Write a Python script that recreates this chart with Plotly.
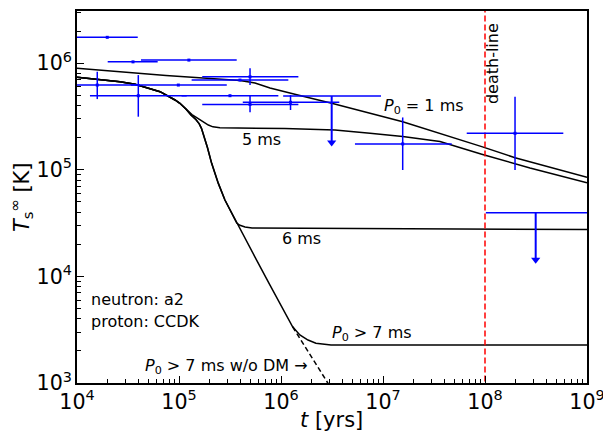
import numpy as np
import plotly.graph_objects as go

# ---------------- data ----------------
# observed pulsars (age t [yr], temperature T [K]) with error ranges
obs_t    = [1.98e4, 3.54e4, 1.25e5, 1.58e4, 9.85e4, 3.99e4, 3.16e5, 4.97e5, 3.96e5, 4.97e5, 1.24e6, 1.56e7, 1.97e8]
obs_t_lo = [8.0e3,  2.00e4, 4.24e4, 5.9e3,  3.38e4, 1.34e4, 1.06e5, 1.69e5, 1.33e5, 1.69e5, 4.22e5, 5.31e6, 6.62e7]
obs_t_hi = [3.94e4, 6.18e4, 3.68e5, 4.15e4, 2.94e5, 1.19e5, 9.42e5, 1.48e6, 1.18e6, 1.48e6, 3.73e6, 4.72e7, 5.86e8]
obs_T    = [1.75e6, 1.03e6, 1.07e6, 6.24e5, 6.24e5, 4.96e5, 4.96e5, 7.46e5, 6.95e5, 4.11e5, 4.30e5, 1.75e5, 2.20e5]
obs_T_lo = [1.75e6, 1.03e6, 1.07e6, 4.61e5, 6.24e5, 3.15e5, 4.96e5, 6.24e5, 6.95e5, 3.46e5, 3.64e5, 9.96e4, 9.96e4]
obs_T_hi = [1.75e6, 1.03e6, 1.07e6, 8.32e5, 6.24e5, 7.74e5, 4.96e5, 8.96e5, 6.95e5, 4.96e5, 5.04e5, 3.10e5, 4.85e5]

# upper limits
ul_t    = [3.14e6, 3.14e8]
ul_t_lo = [1.05e6, 1.02e8]
ul_t_hi = [9.55e6, 1.00e9]
ul_T    = [4.92e5, 3.96e4]
ul_tip  = [1.80e5, 1.43e4]

# cooling curves
p1_t = [1.0e4, 2.64e4, 7.46e4, 3.96e5, 5.56e5, 7.80e5, 1.09e6, 1.53e6, 3.14e6, 1.56e7, 9.29e7, 1.97e8, 1.0e9]
p1_T = [8.96e5, 8.32e5, 7.69e5, 6.88e5, 6.52e5, 5.85e5, 5.37e5, 4.98e5, 4.21e5, 2.82e5, 1.65e5, 1.30e5, 8.51e4]

common_t = [1.0e4, 2.64e4, 3.71e4, 6.52e4, 9.14e4, 1.02e5, 1.17e5]
common_T = [7.38e5, 6.70e5, 6.34e5, 5.41e5, 4.52e5, 4.21e5, 3.72e5]

p5_t = [1.34e5, 1.53e5, 1.72e5, 1.94e5, 2.15e5, 2.52e5, 1.09e6, 3.38e6, 7.46e6, 1.56e7, 3.62e7, 9.29e7, 2.76e8, 1.0e9]
p5_T = [3.30e5, 3.04e5, 2.81e5, 2.63e5, 2.53e5, 2.48e5, 2.44e5, 2.36e5, 2.20e5, 2.05e5, 1.84e5, 1.40e5, 1.04e5, 7.57e4]

steep_t = [1.31e5, 1.47e5, 1.58e5, 1.66e5, 1.76e5, 1.90e5, 2.09e5, 2.43e5, 2.82e5, 3.29e5, 3.68e5]
steep_T = [3.27e5, 2.95e5, 2.70e5, 2.45e5, 2.08e5, 1.62e5, 1.15e5, 7.46e4, 5.21e4, 3.91e4, 3.17e4]

p6_t = [3.96e5, 4.44e5, 5.20e5, 3.38e6, 1.0e9]
p6_T = [3.02e4, 2.91e4, 2.84e4, 2.81e4, 2.75e4]

p7_t = [4.44e5, 5.56e5, 7.80e5, 1.30e6, 1.53e6, 1.84e6, 2.20e6, 3.09e6, 1.0e9]
p7_T = [2.29e4, 1.52e4, 8.30e3, 3.37e3, 2.82e3, 2.53e3, 2.36e3, 2.27e3, 2.27e3]

nodm_t = [1.30e6, 1.92e6, 2.96e6]
nodm_T = [3.37e3, 1.87e3, 9.57e2]

death_t = 1.0e8

# ---------------- figure ----------------
FONT = "DejaVu Sans"
BLUE = "#0000ff"
fig = go.Figure()

def curve(t, T, dash=None):
    fig.add_trace(go.Scatter(x=t, y=T, mode="lines",
                             line=dict(color="black", width=1.5, dash=dash),
                             showlegend=False, hoverinfo="skip"))

curve(p1_t, p1_T)
curve(common_t + p5_t, common_T + p5_T)
curve(common_t + steep_t + p6_t, common_T + steep_T + p6_T)
curve(common_t + steep_t + p7_t, common_T + steep_T + p7_T)
curve(nodm_t, nodm_T, dash="5px,3px")

# death line
fig.add_trace(go.Scatter(x=[death_t, death_t], y=[1e2, 1e8], mode="lines",
                         line=dict(color="#ff0000", width=1.5, dash="6px,3px"),
                         showlegend=False, hoverinfo="skip"))

# observations
fig.add_trace(go.Scatter(
    x=obs_t, y=obs_T, mode="markers",
    marker=dict(symbol="square", size=3, color=BLUE),
    error_x=dict(type="data", symmetric=False,
                 array=[h - v for h, v in zip(obs_t_hi, obs_t)],
                 arrayminus=[v - l for l, v in zip(obs_t_lo, obs_t)],
                 color=BLUE, thickness=1.5, width=0),
    error_y=dict(type="data", symmetric=False,
                 array=[h - v for h, v in zip(obs_T_hi, obs_T)],
                 arrayminus=[v - l for l, v in zip(obs_T_lo, obs_T)],
                 color=BLUE, thickness=1.5, width=0),
    showlegend=False, hoverinfo="skip"))

# upper limits: horizontal bars
fig.add_trace(go.Scatter(
    x=ul_t, y=ul_T, mode="markers", marker=dict(size=1, color=BLUE, opacity=0),
    error_x=dict(type="data", symmetric=False,
                 array=[h - v for h, v in zip(ul_t_hi, ul_t)],
                 arrayminus=[v - l for l, v in zip(ul_t_lo, ul_t)],
                 color=BLUE, thickness=1.5, width=0),
    showlegend=False, hoverinfo="skip"))
# arrows
ax, ay = [], []
for t, T, tip in zip(ul_t, ul_T, ul_tip):
    ax += [t, t, None]
    ay += [T, tip, None]
fig.add_trace(go.Scatter(x=ax, y=ay, mode="lines", line=dict(color=BLUE, width=2),
                         showlegend=False, hoverinfo="skip"))
fig.add_trace(go.Scatter(x=ul_t, y=ul_tip, mode="markers",
                         marker=dict(symbol="triangle-down", size=8, color=BLUE,
                                     line=dict(width=0)),
                         showlegend=False, hoverinfo="skip"))

L = np.log10
tf = dict(family=FONT, size=16, color="black")
ann = [
    dict(x=L(2.52e7), y=L(3.91e5), text="<i>P</i><sub>0</sub> = 1 ms"),
    dict(x=L(6.37e5), y=L(1.91e5), text="5 ms"),
    dict(x=L(1.60e6), y=L(2.28e4), text="6 ms"),
    dict(x=L(7.80e6), y=L(2.94e3), text="<i>P</i><sub>0</sub> > 7 ms"),
    dict(x=L(2.89e5), y=L(1.44e3), text="<i>P</i><sub>0</sub> > 7 ms w/o DM →"),
]
annotations = []
for a in ann:
    annotations.append(dict(xref="x", yref="y", showarrow=False, font=tf,
                            xanchor="center", yanchor="middle", **a))
annotations += [
    dict(xref="paper", yref="paper", x=0.0235, y=(383 - 299) / 372, text="neutron: a2",
         showarrow=False, font=tf, xanchor="left", yanchor="middle"),
    dict(xref="paper", yref="paper", x=0.0235, y=(383 - 321.5) / 372, text="proton: CCDK",
         showarrow=False, font=tf, xanchor="left", yanchor="middle"),
    dict(xref="x", yref="paper", x=L(1.2e8), y=(383 - 64) / 372, text="death-line",
         showarrow=False, font=tf, textangle=-90, xanchor="center", yanchor="middle"),
    # axis titles
    dict(xref="paper", yref="paper", x=(331 - 77) / 510, y=(383 - 420) / 372,
         text="<i>t</i> [yrs]", showarrow=False,
         font=dict(family=FONT, size=21, color="black"), xanchor="center", yanchor="middle"),
    dict(xref="paper", yref="paper", x=(21 - 77) / 510, y=(383 - 197) / 372,
         text="<i>T</i><sub>s</sub><sup>∞</sup> [K]", showarrow=False, textangle=-90,
         font=dict(family=FONT, size=21, color="black"), xanchor="center", yanchor="middle"),
]

axis_common = dict(
    type="log", showgrid=False, zeroline=False, automargin=False,
    showline=True, linecolor="black", linewidth=1.5, mirror=True,
    ticks="inside", ticklen=7, tickwidth=1.2, tickcolor="black",
    dtick=1, exponentformat="power", ticklabeloverflow="allow",
    tickfont=dict(family=FONT, size=16.5, color="black"),
    minor=dict(ticks="inside", ticklen=4, tickwidth=1, tickcolor="black", showgrid=False),
)

fig.update_layout(
    width=603, height=435,
    margin=dict(l=77, r=16, t=11, b=52),
    paper_bgcolor="white", plot_bgcolor="white",
    xaxis=dict(range=[4, 9.00001], **axis_common),
    yaxis=dict(range=[3, 6.49], **axis_common),
    annotations=annotations,
    font=dict(family=FONT),
)

fig.write_html("out.html", config={"displayModeBar": False},
               post_script="document.body.style.margin='0';document.body.style.padding='0';")
